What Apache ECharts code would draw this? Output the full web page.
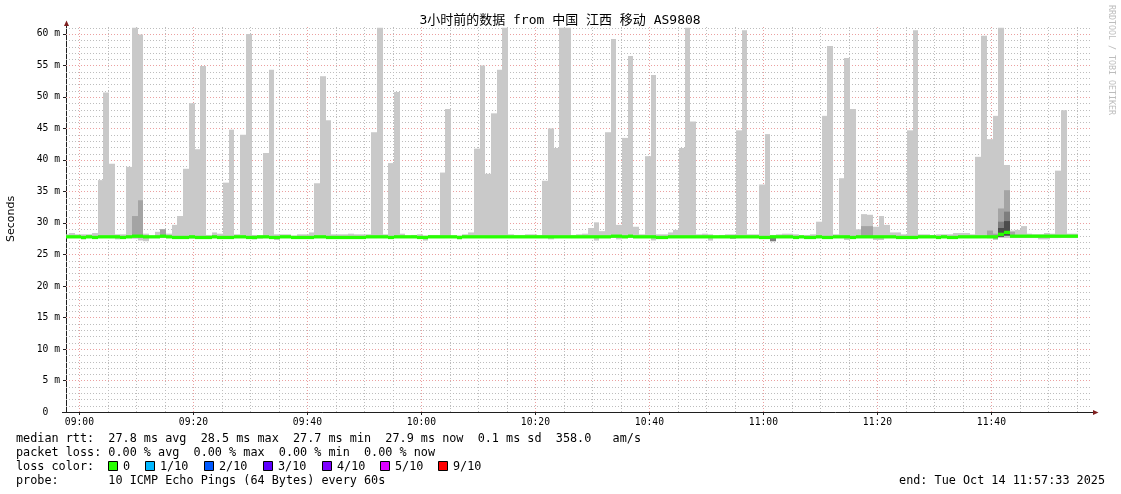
<!DOCTYPE html>
<html><head><meta charset="utf-8">
<script src="https://cdn.jsdelivr.net/npm/echarts@6/dist/echarts.min.js"></script>
<style>html,body{margin:0;padding:0;background:#fff}#c{width:1121px;height:494px}</style>
</head><body><div id="c"></div>
<script>
// minutes relative to 09:00; first bar index
const firstBar = -3;
const barOffset = 0.2;

// upper edge of the smoke (max ping, ms) per minute, from 08:57 bar on
const smokeMax = [
  28.2, 28.4, 28.2, 28.2, 28.2, 28.4, 36.8, 50.7, 39.4, 28.2,
  28.2, 38.9, 61.0, 59.9, 28.3, 28.0, 28.6, 29.0, 28.3, 29.7,
  31.1, 38.6, 49.0, 41.7, 54.9, 28.1, 28.5, 28.3, 36.4, 44.8,
  28.2, 44.0, 60.0, 28.1, 28.0, 41.1, 54.3, 28.2, 28.2, 28.2,
  28.0, 28.2, 28.2, 28.5, 36.3, 53.3, 46.3, 28.2, 28.2, 28.2,
  28.3, 28.2, 28.2, 28.2, 44.4, 61.0, 28.2, 39.5, 50.8, 28.3,
  28.0, 28.1, 28.2, 28.0, 28.1, 28.1, 38.0, 48.1, 28.0, 28.0,
  28.2, 28.5, 41.8, 55.0, 37.8, 47.4, 54.3, 61.0, 28.2, 28.1,
  28.1, 28.2, 28.2, 28.1, 36.7, 45.0, 41.9, 61.0, 61.0, 28.1,
  28.2, 28.3, 29.2, 30.1, 28.7, 44.4, 59.2, 29.7, 43.5, 56.5,
  29.4, 28.2, 40.6, 53.5, 28.2, 28.2, 28.5, 28.9, 41.9, 61.0,
  46.1, 28.2, 28.3, 28.2, 28.0, 28.1, 28.2, 28.2, 44.7, 60.6,
  28.2, 28.2, 36.1, 44.1, 28.1, 28.2, 28.3, 28.3, 28.2, 28.0,
  28.1, 28.2, 30.2, 47.0, 58.1, 28.2, 37.1, 56.2, 48.1, 29.0,
  31.4, 31.3, 29.4, 31.1, 29.7, 28.5, 28.5, 28.2, 44.7, 60.6,
  28.2, 28.2, 28.1, 28.2, 28.2, 28.2, 28.4, 28.4, 28.4, 28.2,
  40.5, 59.7, 43.3, 47.0, 61.0, 39.2, 28.8, 28.9, 29.5, 28.3,
  28.2, 28.2, 28.4, 28.3, 38.3, 47.9, 28.3, 28.3
];

// lower edge of the smoke (min ping, ms)
const smokeMin = [
  27.6, 27.6, 27.6, 27.4, 27.6, 27.6, 27.6, 27.6, 27.6, 27.4,
  27.5, 27.6, 27.5, 27.2, 27.1, 27.6, 27.6, 27.6, 27.6, 27.6,
  27.6, 27.6, 27.5, 27.6, 27.6, 27.6, 27.6, 27.6, 27.6, 27.6,
  27.6, 27.6, 27.5, 27.4, 27.5, 27.6, 27.6, 27.3, 27.6, 27.6,
  27.6, 27.6, 27.6, 27.6, 27.6, 27.6, 27.6, 27.6, 27.6, 27.6,
  27.6, 27.6, 27.6, 27.6, 27.6, 27.6, 27.6, 27.6, 27.6, 27.6,
  27.6, 27.6, 27.5, 27.2, 27.6, 27.6, 27.6, 27.6, 27.6, 27.4,
  27.6, 27.6, 27.6, 27.6, 27.6, 27.6, 27.6, 27.6, 27.6, 27.6,
  27.6, 27.6, 27.6, 27.6, 27.6, 27.4, 27.6, 27.6, 27.6, 27.6,
  27.6, 27.6, 27.6, 27.2, 27.6, 27.6, 27.6, 27.4, 27.6, 27.6,
  27.6, 27.6, 27.6, 27.2, 27.6, 27.6, 27.6, 27.6, 27.6, 27.6,
  27.6, 27.6, 27.6, 27.2, 27.6, 27.6, 27.6, 27.5, 27.6, 27.6,
  27.6, 27.6, 27.6, 27.6, 27.1, 27.6, 27.6, 27.6, 27.6, 27.6,
  27.6, 27.6, 27.6, 27.6, 27.6, 27.6, 27.6, 27.3, 27.6, 27.6,
  27.6, 27.6, 27.3, 27.3, 27.6, 27.6, 27.6, 27.6, 27.6, 27.6,
  27.6, 27.6, 27.6, 27.6, 27.6, 27.6, 27.6, 27.6, 27.6, 27.6,
  27.6, 27.6, 27.6, 27.3, 27.6, 27.6, 27.6, 27.6, 27.6, 27.6,
  27.6, 27.4, 27.4, 27.6, 27.6, 27.6, 27.6, 27.6
];

// median rtt (ms) per minute
const medianRtt = [
  27.8, 27.8, 27.8, 27.7, 27.8, 27.7, 27.8, 27.8, 27.8, 27.8,
  27.7, 27.8, 27.9, 27.9, 27.8, 27.8, 27.8, 27.9, 27.8, 27.7,
  27.7, 27.7, 27.8, 27.7, 27.7, 27.7, 27.8, 27.7, 27.7, 27.7,
  27.8, 27.8, 27.7, 27.7, 27.8, 27.8, 27.7, 27.7, 27.8, 27.8,
  27.7, 27.7, 27.7, 27.7, 27.8, 27.8, 27.7, 27.7, 27.7, 27.7,
  27.7, 27.7, 27.7, 27.8, 27.8, 27.8, 27.8, 27.7, 27.8, 27.8,
  27.8, 27.8, 27.7, 27.7, 27.8, 27.8, 27.8, 27.8, 27.8, 27.7,
  27.8, 27.8, 27.8, 27.8, 27.8, 27.8, 27.8, 27.8, 27.8, 27.8,
  27.8, 27.8, 27.8, 27.8, 27.8, 27.8, 27.8, 27.8, 27.8, 27.8,
  27.8, 27.8, 27.8, 27.8, 27.8, 27.8, 27.9, 27.9, 27.8, 27.9,
  27.8, 27.8, 27.8, 27.8, 27.7, 27.7, 27.8, 27.8, 27.8, 27.8,
  27.8, 27.8, 27.8, 27.8, 27.8, 27.8, 27.8, 27.8, 27.8, 27.8,
  27.8, 27.8, 27.7, 27.7, 27.8, 27.8, 27.8, 27.8, 27.7, 27.8,
  27.7, 27.7, 27.8, 27.7, 27.7, 27.8, 27.8, 27.8, 27.7, 27.8,
  27.8, 27.8, 27.8, 27.8, 27.8, 27.8, 27.7, 27.7, 27.7, 27.7,
  27.8, 27.8, 27.8, 27.7, 27.8, 27.7, 27.7, 27.8, 27.8, 27.8,
  27.8, 27.8, 27.8, 27.8, 28.2, 28.5, 27.9, 27.9, 27.9, 27.9,
  27.9, 27.9, 27.9, 27.9, 27.9, 27.9, 27.9, 27.9
];

// inner (darker) smoke layers: [minute, low ms, high ms, shade level]
const darkLayers = [
  [9, 27.7, 31.1, 1], [10, 27.6, 33.6, 1], [14, 27.9, 29.0, 1],
  [114, 27.5, 28.0, 1], [121, 27.1, 27.8, 2],
  [137, 27.7, 29.5, 1], [138, 27.7, 29.5, 1],
  [159, 27.6, 28.8, 1], [160, 27.5, 28.3, 1],
  [161, 27.9, 32.3, 1], [161, 27.9, 30.2, 2], [161, 27.8, 29.2, 3],
  [162, 28.0, 35.2, 1], [162, 28.0, 31.8, 2], [162, 28.0, 30.3, 3],
  [163, 27.8, 28.6, 1]
];

const smokeColors = ['#c9c9c9', '#a4a4a4', '#7e7e7e', '#4c4c4c'];
const xTickValues = [0, 20, 40, 60, 80, 100, 120, 140, 160];
const xTickLabels = ['09:00', '09:20', '09:40', '10:00', '10:20', '10:40', '11:00', '11:20', '11:40'];
const yTickValues = [0, 5, 10, 15, 20, 25, 30, 35, 40, 45, 50, 55, 60];
const yTickLabels = ['0  ', '5 m', '10 m', '15 m', '20 m', '25 m', '30 m', '35 m', '40 m', '45 m', '50 m', '55 m', '60 m'];
const lossColors = ['#26ff00', '#00b8ff', '#0059ff', '#5e00ff', '#7e00ff', '#dd00ff', '#ff0000'];
const lossLabels = ['0', '1/10', '2/10', '3/10', '4/10', '5/10', '9/10'];

const titleText = '3小时前的数据 from 中国 江西 移动 AS9808';
const rttLine = 'median rtt:  27.8 ms avg  28.5 ms max  27.7 ms min  27.9 ms now  0.1 ms sd  358.0   am/s';
const lossLine = 'packet loss: 0.00 % avg  0.00 % max  0.00 % min  0.00 % now';
const lossColorLine = 'loss color:';
const probeLine = 'probe:       10 ICMP Echo Pings (64 Bytes) every 60s';
const endLine = 'end: Tue Oct 14 11:57:33 2025';

const MONO = "'DejaVu Sans Mono', 'Noto Sans CJK SC', monospace";

// ---- build series data ----
const smokeData = [];
for (let k = 0; k < smokeMax.length; k++) {
  const t = firstBar + k + barOffset;
  smokeData.push([t, t + 1, smokeMin[k], smokeMax[k], 0]);
}
darkLayers.forEach(d => {
  const t = d[0] + barOffset;
  smokeData.push([t, t + 1, d[1], d[2], d[3]]);
});
const medianData = medianRtt.map((m, k) => {
  const t = firstBar + k + barOffset;
  return [t, t + 1, m];
});

const gridData = [];
for (let v = 1; v <= 61; v++) if (v % 5) gridData.push([0, v, 0]);
for (let v = 5; v <= 175; v += 5) if (v % 20) gridData.push([1, v, 0]);
for (let v = 5; v <= 60; v += 5) gridData.push([0, v, 1]);
for (let v = 0; v <= 160; v += 20) gridData.push([1, v, 1]);

const chart = echarts.init(document.getElementById('c'), null, {renderer: 'canvas'});

const FS = 11.8;
const legendX = [108, 145, 204, 263, 322, 380, 438];
const rowY = [439, 453, 467, 481];
const graphics = [
  {type: 'text', x: 560, y: 21, style: {text: titleText, font: '13px ' + MONO, fill: '#000', textAlign: 'center', textVerticalAlign: 'middle'}},
  {type: 'text', x: 11, y: 219, rotation: Math.PI / 2, style: {text: 'Seconds', font: "11px 'DejaVu Sans'", fill: '#000', textAlign: 'center', textVerticalAlign: 'middle'}},
  {type: 'text', x: 1111, y: 60, rotation: -Math.PI / 2, style: {text: 'RRDTOOL / TOBI OETIKER', font: '8.3px ' + MONO, fill: '#bdbdbd', textAlign: 'center', textVerticalAlign: 'middle'}},
  {type: 'line', shape: {x1: 66.5, y1: 27, x2: 66.5, y2: 22}, style: {stroke: '#1f1f1f', lineWidth: 1}},
  {type: 'polygon', shape: {points: [[64, 26], [66.5, 20.5], [69, 26]]}, style: {fill: '#7f1f1f'}},
  {type: 'line', shape: {x1: 1092, y1: 412.5, x2: 1095, y2: 412.5}, style: {stroke: '#1f1f1f', lineWidth: 1}},
  {type: 'polygon', shape: {points: [[1093, 410], [1098.5, 412.5], [1093, 415]]}, style: {fill: '#7f1f1f'}},
  {type: 'line', shape: {x1: 62, y1: 412.5, x2: 66, y2: 412.5}, style: {stroke: '#1f1f1f', lineWidth: 1}},
  {type: 'text', x: 16, y: rowY[0], style: {text: rttLine, font: FS + 'px ' + MONO, fill: '#000', textVerticalAlign: 'middle'}},
  {type: 'text', x: 16, y: rowY[1], style: {text: lossLine, font: FS + 'px ' + MONO, fill: '#000', textVerticalAlign: 'middle'}},
  {type: 'text', x: 16, y: rowY[2], style: {text: lossColorLine, font: FS + 'px ' + MONO, fill: '#000', textVerticalAlign: 'middle'}},
  {type: 'text', x: 16, y: rowY[3], style: {text: probeLine, font: FS + 'px ' + MONO, fill: '#000', textVerticalAlign: 'middle'}},
  {type: 'text', x: 1105, y: rowY[3], style: {text: endLine, font: FS + 'px ' + MONO, fill: '#000', textAlign: 'right', textVerticalAlign: 'middle'}}
];
lossColors.forEach((c, k) => {
  graphics.push({type: 'rect', shape: {x: legendX[k] + 0.5, y: rowY[2] - 5.5, width: 9, height: 9}, style: {fill: c, stroke: '#000', lineWidth: 1}});
  graphics.push({type: 'text', x: legendX[k] + 15, y: rowY[2], style: {text: lossLabels[k], font: FS + 'px ' + MONO, fill: '#000', textVerticalAlign: 'middle'}});
});

chart.setOption({
  animation: false,
  backgroundColor: '#ffffff',
  grid: {left: 66, top: 27, width: 1026, height: 385, containLabel: false},
  xAxis: {
    type: 'value', min: -2.35, max: 177.65,
    axisLine: {show: true, onZero: false, lineStyle: {color: '#1f1f1f', width: 1}},
    axisTick: {show: true, length: 3, inside: false, customValues: xTickValues, lineStyle: {color: '#1f1f1f'}},
    axisLabel: {show: true, customValues: xTickValues, margin: 6, fontFamily: MONO, fontSize: 9.7, color: '#000',
      formatter: v => xTickLabels[xTickValues.indexOf(Math.round(v))] || ''},
    splitLine: {show: false}
  },
  yAxis: {
    type: 'value', min: 0, max: 61.1,
    axisLine: {show: true, onZero: false, lineStyle: {color: '#1f1f1f', width: 1}},
    axisTick: {show: true, length: 3, customValues: yTickValues, lineStyle: {color: '#1f1f1f'}},
    axisLabel: {show: true, customValues: yTickValues, margin: 6, fontFamily: MONO, fontSize: 9.7, color: '#000',
      formatter: v => yTickLabels[yTickValues.indexOf(Math.round(v))] || ''},
    splitLine: {show: false}
  },
  graphic: graphics,
  series: [
    {
      type: 'custom', name: 'grid', z: 1, silent: true, clip: false,
      data: gridData,
      renderItem: (params, api) => {
        const o = api.value(0), v = api.value(1), major = api.value(2);
        const cs = params.coordSys;
        let shape;
        if (o === 0) {
          const y = Math.round(api.coord([0, v])[1]) + 0.5;
          shape = {x1: cs.x, y1: y, x2: cs.x + cs.width, y2: y};
        } else {
          const x = Math.round(api.coord([v, 0])[0]) + 0.5;
          shape = {x1: x, y1: cs.y, x2: x, y2: cs.y + cs.height};
        }
        return {type: 'line', shape, style: {stroke: major ? '#eba0a0' : '#bdbdbd', lineWidth: 1, lineDash: [1, 2]}};
      }
    },
    {
      type: 'custom', name: 'smoke', z: 2, silent: true, clip: true,
      encode: {x: [0, 1], y: [2, 3]},
      data: smokeData,
      renderItem: (params, api) => {
        const a = api.coord([api.value(0), api.value(3)]);
        const b = api.coord([api.value(1), api.value(2)]);
        const x0 = Math.round(a[0]), x1 = Math.round(b[0]);
        return {type: 'rect', shape: {x: x0, y: a[1], width: x1 - x0, height: b[1] - a[1]},
          style: {fill: smokeColors[api.value(4)]}};
      }
    },
    {
      type: 'custom', name: 'median', z: 3, silent: true, clip: true,
      encode: {x: [0, 1], y: 2},
      data: medianData,
      renderItem: (params, api) => {
        const m = api.value(2);
        const a = api.coord([api.value(0), m + 0.26]);
        const b = api.coord([api.value(1), m - 0.26]);
        const x0 = Math.round(a[0]), x1 = Math.round(b[0]);
        return {type: 'rect', shape: {x: x0, y: a[1], width: x1 - x0, height: b[1] - a[1]},
          style: {fill: lossColors[0]}};
      }
    }
  ]
});
</script>
</body></html>
